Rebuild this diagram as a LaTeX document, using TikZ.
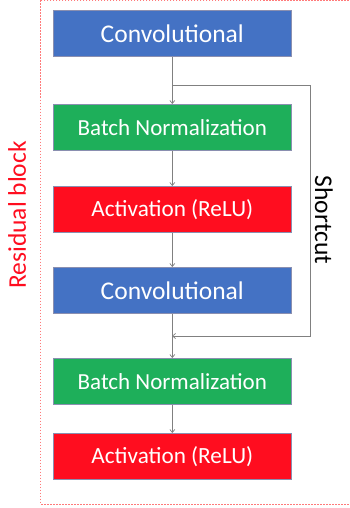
\documentclass[tikz,border=0pt]{standalone}
\usepackage{fontspec}
\setmainfont{Carlito}
\usetikzlibrary{arrows.meta}
\definecolor{cblue}{HTML}{4472C4}
\definecolor{cgreen}{HTML}{1EAF5A}
\definecolor{cred}{HTML}{FF0D1F}
\definecolor{cline}{HTML}{808080}
\definecolor{cdash}{HTML}{FF7A7A}
\definecolor{cedge}{HTML}{8A8FB0}
\tikzset{
  blk/.style={draw=cedge, line width=0.6pt, fill=#1, minimum width=238pt, minimum height=46pt, text=white, inner sep=0pt, anchor=north west},
  conv/.style={blk=cblue, font=\fontsize{25.5}{27}\selectfont},
  bn/.style={blk=cgreen, font=\fontsize{23}{25}\selectfont},
  act/.style={blk=cred, font=\fontsize{23.2}{25}\selectfont},
  conn/.style={draw=cline, line width=0.7pt, -{Straight Barb[length=3pt,width=5pt]}},
  plain/.style={draw=cline, line width=0.9pt},
}
\begin{document}
\begin{tikzpicture}[x=1pt,y=-1pt]
\useasboundingbox (0,0) rectangle (349,508);
\begin{scope}
\clip (0,0) rectangle (349,508);
\draw[cdash, line width=0.6pt, dash pattern=on 1.5pt off 1.5pt] (40.5,0.5) rectangle (360,504);
\end{scope}
\node[conv] (c1) at (53,10) {Convolutional};
\node[bn] (b1) at (53,104) {Batch Normalization};
\node[act] (a1) at (53,186) {Activation (ReLU)};
\node[conv] (c2) at (53,267) {Convolutional};
\node[bn] (b2) at (53,358) {Batch Normalization};
\node[act] (a2) at (53,433) {Activation (ReLU)};
\coordinate (s1) at (172,85);
\coordinate (s2) at (310,85);
\coordinate (s3) at (310,336);
\coordinate (s4) at (172,336);
\draw[conn] (c1) -- (b1);
\draw[conn] (b1) -- (a1);
\draw[conn] (a1) -- (c2);
\draw[conn] (c2) -- (b2);
\draw[conn] (b2) -- (a2);
\draw[plain] (s1) -- (s2) -- (s3) -- (s4);
\draw[conn] (s3) -- (s4);
\node[rotate=-90, font=\fontsize{25.5}{27}\selectfont] (sc) at (324,220) {Shortcut};
\node[rotate=90, text=cred, font=\fontsize{25.5}{27}\selectfont] (rb) at (17,215) {Residual block};
\end{tikzpicture}
\end{document}
